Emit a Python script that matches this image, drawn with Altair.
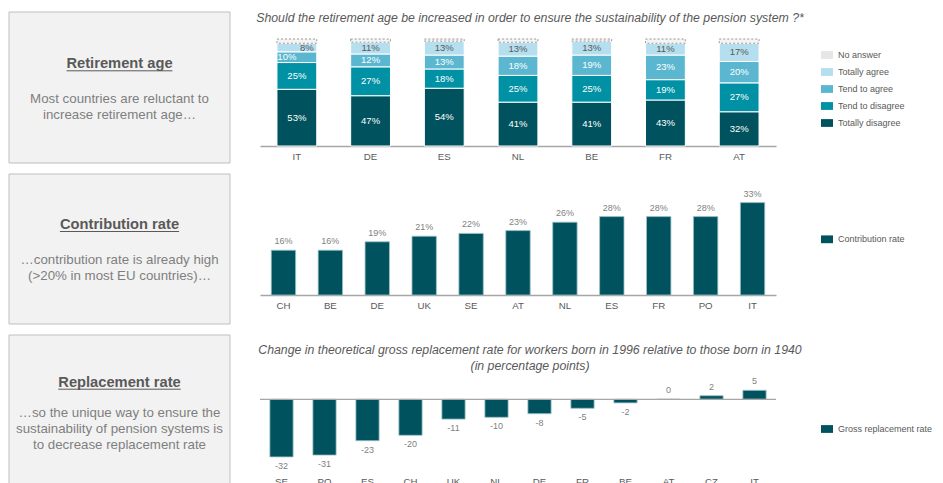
import altair as alt
import pandas as pd

FONT = "Liberation Sans"
DARK = "#595959"
MID = "#7F7F7F"
AXIS_GRAY = "#A6A6A6"
TEAL = "#00535E"

# ---------------- data ----------------
age_countries = ["IT", "DE", "ES", "NL", "BE", "FR", "AT"]
totally_disagree = [53, 47, 54, 41, 41, 43, 32]
tend_to_disagree = [25, 27, 18, 25, 25, 19, 27]
tend_to_agree = [10, 12, 13, 18, 19, 23, 20]
totally_agree = [8, 11, 13, 13, 13, 11, 17]
no_answer = [4, 3, 2, 3, 2, 4, 4]

segment_names = ["Totally disagree", "Tend to disagree", "Tend to agree", "Totally agree", "No answer"]
legend_order = ["No answer", "Totally agree", "Tend to agree", "Tend to disagree", "Totally disagree"]
legend_colors = ["#E6E6E6", "#B5DFEF", "#5BB7CF", "#0091A5", TEAL]

contrib_countries = ["CH", "BE", "DE", "UK", "SE", "AT", "NL", "ES", "FR", "PO", "IT"]
contrib_rate = [16, 16, 19, 21, 22, 23, 26, 28, 28, 28, 33]

repl_countries = ["SE", "PO", "ES", "CH", "UK", "NL", "DE", "FR", "BE", "AT", "CZ", "IT"]
repl_change = [-32, -31, -23, -20, -11, -10, -8, -5, -2, 0, 2, 5]

title_age = "Should the retirement age be increased in order to ensure the sustainability of the pension system ?*"
title_repl_1 = "Change in theoretical gross replacement rate for workers born in 1996 relative to those born in 1940"
title_repl_2 = "(in percentage points)"

# ---------------- layout constants (pixels inside the single view) ----------------
W = 516
HT = 434                    # total view height
R1 = (107, 0)               # y range of row 1 (bottom, top)
R2 = (256, 158)
R3 = (432.3, 342.3)
BOX_L, BOX_R = -251, -30
BOX_CX = (BOX_L + BOX_R) / 2
TITLE_CX = 270
LEG_X = 561
RECT_SYMBOL = "M-1,-0.65H1V0.65H-1Z"


def one_row():
    return pd.DataFrame({"k": [0]})


def free_text(text, x, y, **kw):
    return alt.Chart(pd.DataFrame({"t": [text]})).mark_text(
        font=FONT, baseline="middle", align="center", **kw
    ).encode(x=alt.value(x), y=alt.value(y), text="t:N")


def box(y0, y1):
    return alt.Chart(one_row()).mark_rect(
        fill="#F2F2F2", stroke="#BFBFBF", strokeWidth=1
    ).encode(x=alt.value(BOX_L), x2=alt.value(BOX_R), y=alt.value(y0), y2=alt.value(y1))


def underline(width, y):
    return alt.Chart(one_row()).mark_rule(color=DARK, strokeWidth=1).encode(
        x=alt.value(BOX_CX - width / 2), x2=alt.value(BOX_CX + width / 2), y=alt.value(y)
    )


def side_panel(y0, y1, head, head_w, head_y, lines, line_y0, line_step):
    layers = [box(y0, y1),
              free_text(head, BOX_CX, head_y, fontSize=14.7, fontWeight="bold", color=DARK),
              underline(head_w, head_y + 6.5)]
    for i, ln in enumerate(lines):
        layers.append(free_text(ln, BOX_CX, line_y0 + i * line_step, fontSize=13.3, color=MID))
    return layers


def legend(x, y):
    return alt.Legend(
        orient="none", legendX=x, legendY=y, title=None, padding=0,
        symbolType=RECT_SYMBOL, symbolSize=144, symbolStrokeWidth=0,
        labelFont=FONT, labelFontSize=9.0, labelColor=DARK, labelOffset=5, rowPadding=6,
    )


def x_axis(offset, domain=True, pad=5):
    return alt.Axis(
        orient="bottom", offset=offset, labelAngle=0, ticks=False, domain=domain,
        domainColor=AXIS_GRAY, domainWidth=1.3, labelColor=DARK, labelFontSize=9.7,
        labelFont=FONT, labelPadding=pad, grid=False, title=None,
    )


# ---------------- row 1 : retirement age ----------------
rows = []
series = [totally_disagree, tend_to_disagree, tend_to_agree, totally_agree, no_answer]
for i, c in enumerate(age_countries):
    for k, name in enumerate(segment_names):
        rows.append({"country": c, "segment": name, "order": k, "value": series[k][i]})
df_age = pd.DataFrame(rows)

x_age = alt.X("country:N", sort=age_countries, title=None,
              scale=alt.Scale(paddingInner=0.46), axis=x_axis(R1[0] - HT))
y_sc1 = alt.Scale(domain=[0, 100], range=list(R1), nice=False)

stacked = alt.Chart(df_age).transform_window(
    cum="sum(value)", groupby=["country"], sort=[alt.SortField("order", "ascending")], frame=[None, 0]
).transform_calculate(
    v0="datum.cum - datum.value", mid="datum.cum - datum.value / 2", label="datum.value + '%'"
)

bars_age = stacked.mark_bar(stroke="white", strokeWidth=1).encode(
    x=x_age,
    y=alt.Y("v0:Q", scale=y_sc1, axis=None),
    y2="cum:Q",
    color=alt.Color("segment:N", scale=alt.Scale(domain=legend_order, range=legend_colors),
                    legend=legend(LEG_X, 10)),
)
hatch_age = stacked.transform_filter(alt.datum.segment == "No answer").mark_bar(
    fill="#F4F4F4", stroke="#808080", strokeDash=[2, 2], strokeWidth=0.8
).encode(x=x_age, y=alt.Y("v0:Q", scale=y_sc1, axis=None), y2="cum:Q")

label_filter = ("datum.segment != 'No answer' && !(datum.country == 'IT' && "
                "(datum.segment == 'Tend to agree' || datum.segment == 'Totally agree'))")
labels_age = stacked.transform_filter(label_filter).mark_text(fontSize=9.5, font=FONT).encode(
    x=x_age, y=alt.Y("mid:Q", scale=y_sc1, axis=None), text="label:N",
    color=alt.condition(alt.datum.segment == "Totally agree", alt.value(DARK), alt.value("white")),
)
it_left = stacked.transform_filter(
    "datum.country == 'IT' && datum.segment == 'Tend to agree'"
).mark_text(fontSize=9.5, font=FONT, color="white", dx=-10).encode(
    x=x_age, y=alt.Y("mid:Q", scale=y_sc1, axis=None), text="label:N")
it_right = stacked.transform_filter(
    "datum.country == 'IT' && datum.segment == 'Totally agree'"
).mark_text(fontSize=9.5, font=FONT, color=DARK, dx=10).encode(
    x=x_age, y=alt.Y("mid:Q", scale=y_sc1, axis=None), text="label:N")

row1 = alt.layer(bars_age, hatch_age, labels_age, it_left, it_right)

# ---------------- row 2 : contribution rate ----------------
df_c = pd.DataFrame({"country": contrib_countries, "rate": contrib_rate})
df_c["series"] = "Contribution rate"
x_c = alt.X("country:N", sort=contrib_countries, title=None,
            scale=alt.Scale(paddingInner=0.48), axis=x_axis(R2[0] - HT))
y_c = alt.Y("rate:Q", scale=alt.Scale(domain=[0, 35], range=list(R2), nice=False), axis=None)

bars_c = alt.Chart(df_c).mark_bar(stroke="#9CC3C8", strokeWidth=0.8).encode(
    x=x_c, y=y_c,
    color=alt.Color("series:N", scale=alt.Scale(range=[TEAL]), legend=legend(LEG_X, 194.3)),
)
labels_c = alt.Chart(df_c).transform_calculate(label="datum.rate + '%'").mark_text(
    baseline="bottom", dy=-4, fontSize=9, font=FONT, color=MID
).encode(x=x_c, y=y_c, text="label:N")

row2 = alt.layer(bars_c, labels_c)

# ---------------- row 3 : replacement rate ----------------
df_r = pd.DataFrame({"country": repl_countries, "change": repl_change})
df_r["series"] = "Gross replacement rate"
x_r = alt.X("country:N", sort=repl_countries, title=None,
            scale=alt.Scale(paddingInner=0.46), axis=x_axis(0, domain=False, pad=3))
y_sc3 = alt.Scale(domain=[-40, 10], range=list(R3), nice=False)
y_r = alt.Y("change:Q", scale=y_sc3, axis=None)

bars_r = alt.Chart(df_r).mark_bar(stroke="#9CC3C8", strokeWidth=0.8).encode(
    x=x_r, y=y_r,
    color=alt.Color("series:N", scale=alt.Scale(range=[TEAL]), legend=legend(LEG_X, 384)),
)
zero_rule = alt.Chart(pd.DataFrame({"change": [0]})).mark_rule(
    color=AXIS_GRAY, strokeWidth=1.3
).encode(y=y_r)
labelled_r = alt.Chart(df_r).transform_calculate(label="'' + datum.change")
labels_pos = labelled_r.transform_filter(alt.datum.change >= 0).mark_text(
    baseline="bottom", dy=-4, fontSize=9, font=FONT, color=MID
).encode(x=x_r, y=y_r, text="label:N")
labels_neg = labelled_r.transform_filter(alt.datum.change < 0).mark_text(
    baseline="top", dy=5, fontSize=9, font=FONT, color=MID
).encode(x=x_r, y=y_r, text="label:N")

row3 = alt.layer(bars_r, zero_rule, labels_pos, labels_neg)

# ---------------- decorations ----------------
decor = alt.layer(
    *side_panel(-27, 124, "Retirement age", 105.9, 25.3,
                ["Most countries are reluctant to", "increase retirement age…"], 60, 16),
    *side_panel(135, 285, "Contribution rate", 119.2, 186,
                ["…contribution rate is already high", "(>20% in most EU countries)…"], 221, 15.5),
    *side_panel(296, 449, "Replacement rate", 122.5, 343.7,
                ["…so the unique way to ensure the", "sustainability of pension systems is",
                 "to decrease replacement rate"], 374.3, 16),
    free_text(title_age, TITLE_CX, -21, fontSize=12.3, fontStyle="italic", color=DARK),
    free_text(title_repl_1, TITLE_CX, 311, fontSize=12.3, fontStyle="italic", color=DARK),
    free_text(title_repl_2, TITLE_CX, 327, fontSize=12.3, fontStyle="italic", color=DARK),
)

# fixed canvas: view origin at page (260, 39); the svg spans page x 8..935, y 8..483
chart = alt.layer(decor, row1, row2, row3).resolve_scale(
    x="independent", y="independent", color="independent"
).properties(
    width=W, height=HT,
    autosize=alt.AutoSizeParams(type="none"),
    padding={"left": 252, "top": 31, "right": 159, "bottom": 10},
).configure(font=FONT).configure_view(stroke=None)

chart.save("out.html", embed_options={"renderer": "svg", "actions": False})
